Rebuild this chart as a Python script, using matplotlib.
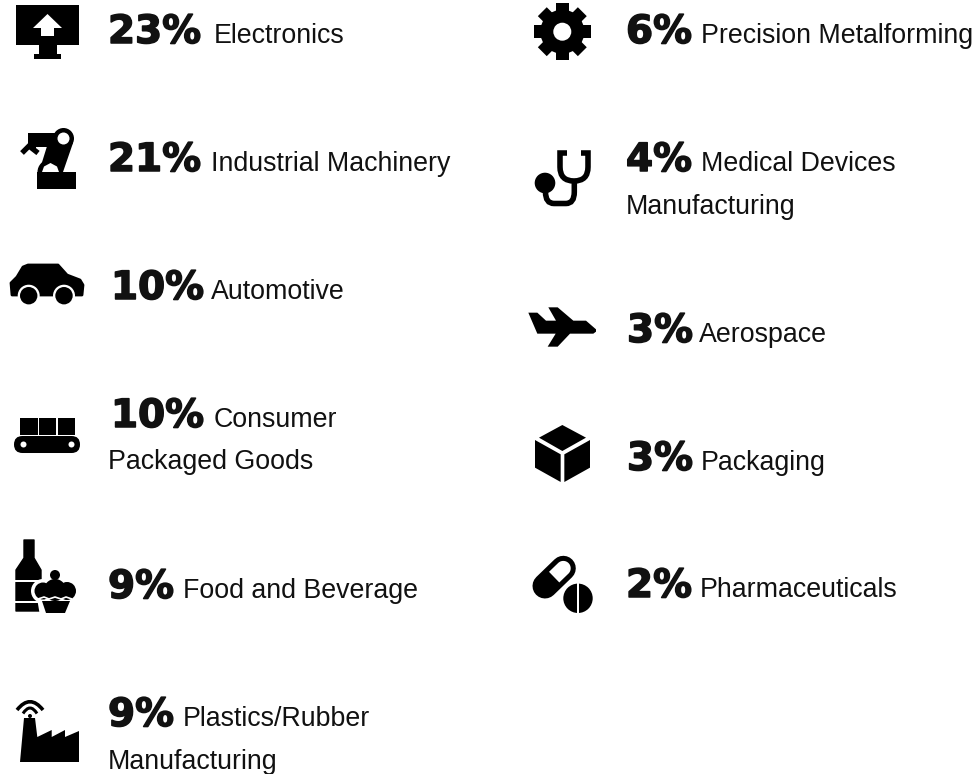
import matplotlib
matplotlib.use('Agg')
import matplotlib.pyplot as plt
import matplotlib.patheffects as pe
from matplotlib.patches import Polygon, Circle, Rectangle, FancyBboxPatch, PathPatch
from matplotlib.path import Path
import numpy as np

# left column then right column
percents = ['23%', '21%', '10%', '10%', '9%', '9%', '6%', '4%', '3%', '3%', '2%']
labels = ['Electronics', 'Industrial Machinery', 'Automotive', 'Consumer', 'Food and Beverage',
          'Plastics/Rubber', 'Precision Metalforming', 'Medical Devices', 'Aerospace', 'Packaging',
          'Pharmaceuticals']
second_lines = ['', '', '', 'Packaged Goods', '', 'Manufacturing', '', 'Manufacturing', '', '', '']

# text layout in pixels
pct_x = [108, 108, 111, 111, 108, 108, 626, 626, 627, 627, 626]
label_x = [214, 211, 211, 214, 183, 183, 701, 701, 699, 701, 700]
base_y = [43, 171, 299, 427, 598, 726, 43, 171, 342, 470, 597]
second_x = [0, 0, 0, 108, 0, 108, 0, 626, 0, 0, 0]
second_y = [0, 0, 0, 469, 0, 769, 0, 214, 0, 0, 0]

INK = '#111111'

fig = plt.figure(figsize=(9.78, 7.74), dpi=100)
ax = fig.add_axes([0, 0, 1, 1])
ax.set_xlim(0, 978)
ax.set_ylim(774, 0)
ax.axis('off')


def poly(pts, color='black', lw=0, z=2):
    ax.add_patch(Polygon(pts, closed=True, fc=color, ec=color, lw=lw, joinstyle='round', zorder=z))


def circ(x, y, r, color='black', z=2):
    ax.add_patch(Circle((x, y), r, fc=color, ec='none', zorder=z))


def stroke(verts, codes, lw, color='black', z=2, cap='butt'):
    ax.add_patch(PathPatch(Path(verts, codes), fc='none', ec=color, lw=lw, capstyle=cap, zorder=z))


M, L, C3 = Path.MOVETO, Path.LINETO, Path.CURVE3

# ---- monitor
poly([(16, 5), (79, 5), (79, 45), (16, 45)])
poly([(39, 45), (57, 45), (57, 54), (61, 54), (61, 59), (34, 59), (34, 54), (39, 54)])
poly([(47.5, 14), (62, 28), (54, 28), (54, 36), (41, 36), (41, 28), (33, 28)], 'white', z=3)

# ---- robot arm
circ(63.5, 138.5, 10.5)
poly([(28, 133), (60, 133), (62, 147), (36, 147), (36, 148), (28, 148)])
poly([(48, 143), (73, 143), (63, 172), (39, 172)])
circ(50, 172, 12.5)
ax.add_patch(Rectangle((37, 172), 39, 17, fc='black', ec='none', zorder=2))
circ(63.5, 138.5, 6, 'white', z=3)
poly([(42, 172), (59, 172), (57, 166.5), (50.5, 163), (44, 166.5)], 'white', z=3)
stroke([(22, 153), (29, 146), (38, 153)], [M, L, L], 3.8, cap='butt')

# ---- car
poly([(12, 295), (11, 283), (17, 277), (23, 267), (28, 265), (58, 265), (67, 275), (80, 280),
      (83, 285), (82, 295)], lw=2)
for cx in (28.7, 64):
    circ(cx, 295.7, 11, 'white', z=3)
    circ(cx, 295.7, 8.7, z=4)

# ---- conveyor
for bx0, bx1 in ((20, 37.5), (39, 56), (58, 75)):
    ax.add_patch(Rectangle((bx0, 418), bx1 - bx0, 16.5, fc='black', ec='none', zorder=2))
ax.add_patch(FancyBboxPatch((22.5, 444.5), 49, 0.01, boxstyle='round,pad=8.5,rounding_size=8.5',
                            fc='black', ec='none', zorder=2))
circ(23.5, 444.5, 3, 'white', z=3)
circ(71.5, 444.5, 3, 'white', z=3)

# ---- bottle and cupcake
poly([(24, 540), (34, 540), (34, 558), (41, 570), (41, 611), (16, 611), (16, 570), (24, 558)], lw=1)
for by0, by1 in ((579.5, 581.5), (601, 603)):
    ax.add_patch(Rectangle((15, by0), 28, by1 - by0, fc='white', ec='none', zorder=3))
for cx, cy, r in ((43, 591, 9), (55, 590, 12), (67, 591, 9)):
    circ(cx, cy, r + 3, 'white', z=4)
poly([(37, 598), (76, 598), (72, 616), (40, 616)], 'white', z=4)
for cx, cy, r in ((43, 591, 8.5), (55, 590, 11), (67, 591, 9)):
    circ(cx, cy, r, z=5)
poly([(42, 595), (70, 595), (70, 599), (42, 599)], z=5)
circ(55, 575, 5, z=5)
poly([(42, 601), (70, 601), (65, 613), (46, 613)], z=5)
stroke([(38, 599), (44, 597), (49, 599), (55, 597), (61, 599), (66, 597), (72, 599)],
       [M, L, L, L, L, L, L], 1.2, 'white', z=6)

# ---- factory
poly([(24, 718), (35, 718), (37.3, 737), (51.7, 730), (51.7, 737), (65, 730), (65, 737),
      (79, 731), (79, 762), (20, 762)])
stroke([(17, 710), (30, 693.4), (43, 710)], [M, C3, C3], 2.6)
stroke([(23, 713.5), (30, 702.5), (37, 713.5)], [M, C3, C3], 2.2)
circ(30, 716, 2)

# ---- gear
gx, gy = 562.3, 31.7
circ(gx, gy, 22)
for ang in np.arange(8) * np.pi / 4:
    d = np.array([np.cos(ang), np.sin(ang)])
    n = np.array([-d[1], d[0]])
    c0 = np.array([gx, gy])
    poly([c0 + d * 15 + n * 6.3, c0 + d * 28.3 + n * 6.3, c0 + d * 28.3 - n * 6.3, c0 + d * 15 - n * 6.3])
circ(gx, gy, 9, 'white', z=3)

# ---- stethoscope
stroke([(567, 153), (560, 153), (560, 167), (560, 181), (574, 181), (588, 181), (588, 167),
        (588, 153), (581, 153)], [M, L, L, C3, C3, C3, C3, L, L], 4)
stroke([(574.3, 181), (574.3, 192), (574.3, 203.5), (566, 203.5), (554, 203.5), (545.5, 203.5),
        (545.5, 192), (545.5, 183)], [M, L, C3, C3, L, C3, C3, L], 4)
circ(545, 183, 10.3)

# ---- plane
plane = [(55, 68), (82, 68), (108, 92), (138, 92), (115, 52), (143, 52), (190, 92), (228, 92),
         (258, 118), (258, 125), (250, 131), (180, 131), (143, 170), (113, 170), (137, 131), (82, 131)]
poly([(510 + px / 3, 290 + py / 3) for px, py in plane])

# ---- box
for face in ([(157, 405), (228, 443), (157, 483), (87, 443)],
             [(75, 450), (152, 493), (152, 576), (75, 533)],
             [(240, 450), (163, 493), (163, 576), (240, 533)]):
    poly([(510 + px / 3, 290 + py / 3) for px, py in face])

# ---- pills
e1 = np.array([545.0, 586.0])
e2 = np.array([563.3, 568.3])
ax.plot([e1[0], e2[0]], [e1[1], e2[1]], color='black', lw=18, solid_capstyle='round', zorder=2)
u = (e2 - e1) / np.linalg.norm(e2 - e1)
v = np.array([-u[1], u[0]])
mid = (e1 + e2) / 2
t = np.linspace(-np.pi / 2, np.pi / 2, 30)
half = [mid + v * 7.4] + [e2 + u * 7.4 * np.cos(a) + v * 7.4 * np.sin(a) for a in t[::-1]] + [mid - v * 7.4]
poly(half, 'white', z=3)
circ(578, 598.3, 17, 'white', z=4)
circ(578, 598.3, 14.7, z=5)
ax.add_patch(Rectangle((577, 582), 2, 33, fc='white', ec='none', zorder=6))

# ---- text
for i in range(len(percents)):
    ax.text(pct_x[i], base_y[i], percents[i], family='DejaVu Sans', fontweight='bold', fontsize=28,
            color=INK, ha='left', va='baseline', zorder=7,
            path_effects=[pe.withStroke(linewidth=1.1, foreground=INK)])
    ax.text(label_x[i], base_y[i], labels[i], family='Liberation Sans', fontsize=19.3,
            color=INK, ha='left', va='baseline', zorder=7)
    if second_lines[i]:
        ax.text(second_x[i], second_y[i], second_lines[i], family='Liberation Sans', fontsize=19.3,
                color=INK, ha='left', va='baseline', zorder=7)

fig.savefig('out.png', dpi=100, facecolor='white')
